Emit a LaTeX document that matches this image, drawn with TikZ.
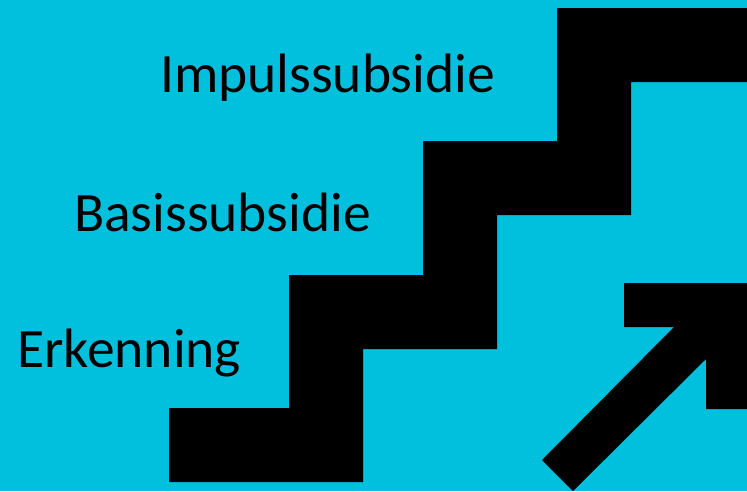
\documentclass[tikz,border=0pt]{standalone}
\usepackage{fontspec}
\setmainfont{Carlito}
\usepackage{tikz}
\usetikzlibrary{positioning}
\definecolor{stepcyan}{RGB}{0,192,222}

\begin{document}
\begin{tikzpicture}[x=1pt, y=-1pt,
    steplabel/.style={font=\fontsize{55.5}{60}\selectfont, text=black, inner sep=0pt, anchor=base west},
    blackshape/.style={fill=black, draw=none}]
    % Background
    \fill[stepcyan] (0,0) rectangle (747,491);
    \useasboundingbox (0,0) rectangle (747,491);

    % Staircase band
    \fill[blackshape]
        (169,482) -- (169,408) -- (289,408) -- (289,275)
        -- (423,275) -- (423,141) -- (557,141) -- (557,8)
        -- (747,8) -- (747,82) -- (631,82) -- (631,215)
        -- (497,215) -- (497,349) -- (363,349) -- (363,482) -- cycle;

    % Arrow pointing up-right
    \fill[blackshape]
        (624,283) -- (747,283) -- (747,409) -- (706,409) -- (706,359)
        -- (573,491) -- (542,460) -- (674,327) -- (624,327) -- cycle;

    % Step labels
    \node[steplabel] (impuls) at (160,92) {Impulssubsidie};
    \node[steplabel] (basis) at (74,231) {Basissubsidie};
    \node[steplabel] (erkenning) at (17,367) {Erkenning};
\end{tikzpicture}
\end{document}
